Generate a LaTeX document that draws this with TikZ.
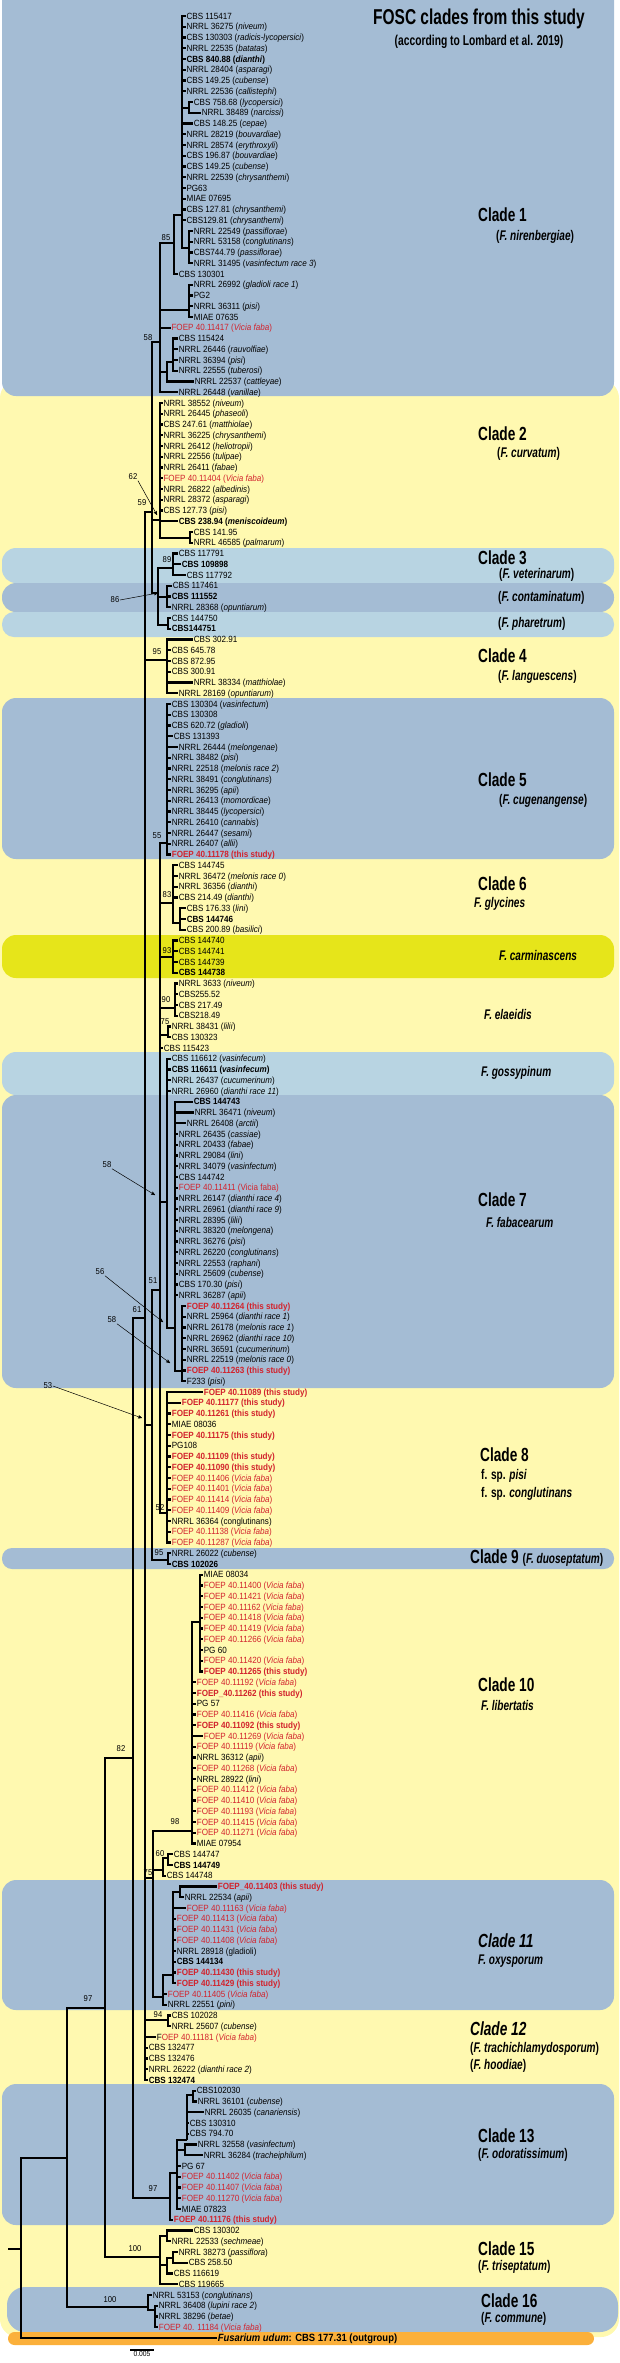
\documentclass[tikz,border=0pt]{standalone}
\usepackage{fontspec}
\setmainfont{Liberation Sans}[FakeStretch=0.9]
\newfontfamily\cladefont{Liberation Sans}[FakeStretch=0.72]
\usetikzlibrary{arrows,positioning}

\definecolor{cladeblue}{RGB}{164,188,212}
\definecolor{cladepale}{RGB}{184,212,226}
\definecolor{cladeyellow}{RGB}{255,249,176}
\definecolor{cladelime}{RGB}{230,229,26}
\definecolor{outorange}{RGB}{251,176,59}
\definecolor{foepred}{RGB}{210,35,45}

\newcommand{\taxfont}{\fontsize{9}{10}\selectfont}
\newcommand{\vf}{(\textit{Vicia faba})}
\newcommand{\ths}{(this study)}
% one taxon per row: \tx[style]{row}{x}{label}
\newcommand{\tx}[4][taxon]{\node[#1] (t#2) at (#3,{16+(#2-1)*10.75}) {#4};}
\newcommand{\fan}[3]{\foreach \i in {#2,...,#3} \draw[branch] (#1) |- (t\i);}
\newcommand{\link}[2]{\draw[branch] (#1) |- (#2);}

\begin{document}
\begin{tikzpicture}[x=1pt,y=-1pt,>=stealth']
  \tikzstyle{taxon}=[anchor=west,inner sep=0.6pt,font=\taxfont,text height=6.4pt,text depth=0pt]
  \tikzstyle{taxbf}=[taxon,font=\taxfont\bfseries]
  \tikzstyle{foep}=[taxon,text=foepred]
  \tikzstyle{foepbf}=[taxbf,text=foepred]
  \tikzstyle{branch}=[line width=2.4pt]
  \tikzstyle{boot}=[inner sep=0.5pt,font=\fontsize{8.5}{9}\selectfont]
  \tikzstyle{lead}=[->,line width=0.5pt]
  \tikzstyle{band}=[rounded corners=14pt]
  \tikzstyle{cladename}=[anchor=west,inner sep=0pt,font=\cladefont\fontsize{19}{21}\selectfont\bfseries]
  \tikzstyle{cladesp}=[anchor=west,inner sep=0pt,font=\cladefont\fontsize{14}{16}\selectfont\bfseries]

  \useasboundingbox (0,0) rectangle (619,2363);

  % clade bands
  \fill[cladeyellow,rounded corners=18pt] (0,380) rectangle (619,2337);
  \fill[cladeblue,band] (2,-20) rectangle (614,396);
  \fill[cladepale,band] (2,548) rectangle (614,583);
  \fill[cladeblue,band] (2,583) rectangle (614,612);
  \fill[cladepale,rounded corners=12pt] (2,612) rectangle (614,637);
  \fill[cladeblue,band] (2,698) rectangle (614,859);
  \fill[cladelime,band] (2,935) rectangle (614,978);
  \fill[cladepale,band] (2,1052) rectangle (614,1095);
  \fill[cladeblue,band] (2,1095) rectangle (614,1388);
  \fill[cladeblue,rounded corners=10pt] (2,1548) rectangle (614,1569);
  \fill[cladeblue,band] (2,1880) rectangle (614,2010);
  \fill[cladeblue,band] (2,2084) rectangle (614,2225);
  \fill[cladeblue,rounded corners=18pt] (7,2287) rectangle (618,2332);
  \fill[outorange,rounded corners=6.5pt] (8,2332) rectangle (594,2345);

  % titles
  \node[font=\cladefont\fontsize{21.5}{23}\selectfont\bfseries,inner sep=0pt] (title) at (479,19) {FOSC clades from this study};
  \node[font=\cladefont\fontsize{14.3}{16}\selectfont\bfseries,inner sep=0pt,below=6pt of title] (subtitle) {(according to Lombard et al. 2019)};

  \node[cladename] (c1) at (478,215) {Clade 1};
  \node[cladesp] (c1s) at (496,237) {(\textit{F. nirenbergiae})};
  \node[cladename] (c2) at (478,434) {Clade 2};
  \node[cladesp] (c2s) at (497,454) {(\textit{F. curvatum})};
  \node[cladename] (c3) at (478,558) {Clade 3};
  \node[cladesp] (c3s) at (499,575) {(\textit{F. veterinarum})};
  \node[cladesp] (cco) at (498,598) {(\textit{F. contaminatum})};
  \node[cladesp] (cph) at (498,624) {(\textit{F. pharetrum})};
  \node[cladename] (c4) at (478,656) {Clade 4};
  \node[cladesp] (c4s) at (498,677) {(\textit{F. languescens})};
  \node[cladename] (c5) at (478,780) {Clade 5};
  \node[cladesp] (c5s) at (499,801) {(\textit{F. cugenangense})};
  \node[cladename] (c6) at (478,884) {Clade 6};
  \node[cladesp] (c6s) at (474,904) {\textit{F. glycines}};
  \node[cladesp] (cca) at (499,955) {\textit{F. carminascens}};
  \node[cladesp] (cel) at (484,1014) {\textit{F. elaeidis}};
  \node[cladesp] (cgo) at (481,1073) {\textit{F. gossypinum}};
  \node[cladename] (c7) at (478,1200) {Clade 7};
  \node[cladesp] (c7s) at (486,1222) {\textit{F. fabacearum}};
  \node[cladename] (c8) at (480,1455) {Clade 8};
  \node[cladesp] (c8s) at (481,1476) {f. sp. \textit{pisi}};
  \node[cladesp] (c8t) at (481,1494) {f. sp. \textit{conglutinans}};
  \node[cladename] (c9) at (470,1558) {Clade 9 {\fontsize{14}{16}\selectfont(\textit{F. duoseptatum})}};
  \node[cladename] (c10) at (478,1685) {Clade 10};
  \node[cladesp] (c10s) at (481,1705) {\textit{F. libertatis}};
  \node[cladename] (c11) at (478,1941) {\textit{Clade 11}};
  \node[cladesp] (c11s) at (478,1961) {\textit{F. oxysporum}};
  \node[cladename] (c12) at (470,2029) {\textit{Clade 12}};
  \node[cladesp] (c12s) at (470,2049) {(\textit{F. trachichlamydosporum})};
  \node[cladesp] (c12t) at (470,2066) {(\textit{F. hoodiae})};
  \node[cladename] (c13) at (478,2136) {Clade 13};
  \node[cladesp] (c13s) at (478,2155) {(\textit{F. odoratissimum})};
  \node[cladename] (c15) at (478,2249) {Clade 15};
  \node[cladesp] (c15s) at (478,2267) {(\textit{F. triseptatum})};
  \node[cladename] (c16) at (481,2301) {Clade 16};
  \node[cladesp] (c16s) at (481,2319) {(\textit{F. commune})};

  % taxa, clade 1
  \tx{1}{185.7}{CBS 115417}
  \tx{2}{185.7}{NRRL 36275 (\textit{niveum})}
  \tx{3}{185.7}{CBS 130303 (\textit{radicis-lycopersici})}
  \tx{4}{185.7}{NRRL 22535 (\textit{batatas})}
  \tx[taxbf]{5}{185.7}{CBS 840.88 (\textit{dianthi})}
  \tx{6}{185.7}{NRRL 28404 (\textit{asparagi})}
  \tx{7}{185.7}{CBS 149.25 (\textit{cubense})}
  \tx{8}{185.7}{NRRL 22536 (\textit{callistephi})}
  \tx{9}{193}{CBS 758.68 (\textit{lycopersici})}
  \tx{10}{201}{NRRL 38489 (\textit{narcissi})}
  \tx{11}{193}{CBS 148.25 (\textit{cepae})}
  \tx{12}{185.7}{NRRL 28219 (\textit{bouvardiae})}
  \tx{13}{185.7}{NRRL 28574 (\textit{erythroxyli})}
  \tx{14}{185.7}{CBS 196.87 (\textit{bouvardiae})}
  \tx{15}{185.7}{CBS 149.25 (\textit{cubense})}
  \tx{16}{185.7}{NRRL 22539 (\textit{chrysanthemi})}
  \tx{17}{185.7}{PG63}
  \tx{18}{185.7}{MIAE 07695}
  \tx{19}{185.7}{CBS 127.81 (\textit{chrysanthemi})}
  \tx{20}{185.7}{CBS129.81 (\textit{chrysanthemi})}
  \tx{21}{193}{NRRL 22549 (\textit{passiflorae})}
  \tx{22}{193}{NRRL 53158 (\textit{conglutinans})}
  \tx{23}{193}{CBS744.79 (\textit{passiflorae})}
  \tx{24}{193}{NRRL 31495 (\textit{vasinfectum race 3})}
  \tx{25}{178}{CBS 130301}
  \tx{26}{193}{NRRL 26992 (\textit{gladioli race 1})}
  \tx{27}{193}{PG2}
  \tx{28}{193}{NRRL 36311 (\textit{pisi})}
  \tx{29}{193}{MIAE 07635}
  \tx[foep]{30}{170.7}{FOEP 40.11417 \vf}
  \tx{31}{178}{CBS 115424}
  \tx{32}{178}{NRRL 26446 (\textit{rauvolfiae})}
  \tx{33}{178}{NRRL 36394 (\textit{pisi})}
  \tx{34}{178}{NRRL 22555 (\textit{tuberosi})}
  \tx{35}{194}{NRRL 22537 (\textit{cattleyae})}
  \tx{36}{178}{NRRL 26448 (\textit{vanillae})}
  % clade 2
  \tx{37}{162.7}{NRRL 38552 (\textit{niveum})}
  \tx{38}{162.7}{NRRL 26445 (\textit{phaseoli})}
  \tx{39}{162.7}{CBS 247.61 (\textit{matthiolae})}
  \tx{40}{162.7}{NRRL 36225 (\textit{chrysanthemi})}
  \tx{41}{162.7}{NRRL 26412 (\textit{heliotropii})}
  \tx{42}{162.7}{NRRL 22556 (\textit{tulipae})}
  \tx{43}{162.7}{NRRL 26411 (\textit{fabae})}
  \tx[foep]{44}{162.7}{FOEP 40.11404 \vf}
  \tx{45}{162.7}{NRRL 26822 (\textit{albedinis})}
  \tx{46}{162.7}{NRRL 28372 (\textit{asparagi})}
  \tx{47}{162.7}{CBS 127.73 (\textit{pisi})}
  \tx[taxbf]{48}{178}{CBS 238.94 (\textit{meniscoideum})}
  \tx{49}{193}{CBS 141.95}
  \tx{50}{193}{NRRL 46585 (\textit{palmarum})}
  % clade 3, contaminatum, pharetrum
  \tx{51}{178}{CBS 117791}
  \tx[taxbf]{52}{181}{CBS 109898}
  \tx{53}{186}{CBS 117792}
  \tx{54}{172}{CBS 117461}
  \tx[taxbf]{55}{171}{CBS 111552}
  \tx{56}{171}{NRRL 28368 (\textit{opuntiarum})}
  \tx{57}{171}{CBS 144750}
  \tx[taxbf]{58}{171}{CBS144751}
  % clade 4
  \tx{59}{193}{CBS 302.91}
  \tx{60}{171}{CBS 645.78}
  \tx{61}{171}{CBS 872.95}
  \tx{62}{171}{CBS 300.91}
  \tx{63}{193}{NRRL 38334 (\textit{matthiolae})}
  \tx{64}{178}{NRRL 28169 (\textit{opuntiarum})}
  % clade 5
  \tx{65}{171}{CBS 130304 (\textit{vasinfectum})}
  \tx{66}{171}{CBS 130308}
  \tx{67}{171}{CBS 620.72 (\textit{gladioli})}
  \tx{68}{173}{CBS 131393}
  \tx{69}{178}{NRRL 26444 (\textit{melongenae})}
  \tx{70}{171}{NRRL 38482 (\textit{pisi})}
  \tx{71}{171}{NRRL 22518 (\textit{melonis race 2})}
  \tx{72}{171}{NRRL 38491 (\textit{conglutinans})}
  \tx{73}{171}{NRRL 36295 (\textit{apii})}
  \tx{74}{171}{NRRL 26413 (\textit{momordicae})}
  \tx{75}{171}{NRRL 38445 (\textit{lycopersici})}
  \tx{76}{171}{NRRL 26410 (\textit{cannabis})}
  \tx{77}{171}{NRRL 26447 (\textit{sesami})}
  \tx{78}{171}{NRRL 26407 (\textit{allii})}
  \tx[foepbf]{79}{171}{FOEP 40.11178 \ths}
  % clade 6, carminascens, elaeidis
  \tx{80}{178}{CBS 144745}
  \tx{81}{178}{NRRL 36472 (\textit{melonis race 0})}
  \tx{82}{178}{NRRL 36356 (\textit{dianthi})}
  \tx{83}{178}{CBS 214.49 (\textit{dianthi})}
  \tx{84}{186}{CBS 176.33 (\textit{lini})}
  \tx[taxbf]{85}{186}{CBS 144746}
  \tx{86}{186}{CBS 200.89 (\textit{basilici})}
  \tx{87}{178}{CBS 144740}
  \tx{88}{178}{CBS 144741}
  \tx{89}{178}{CBS 144739}
  \tx[taxbf]{90}{178}{CBS 144738}
  \tx{91}{178}{NRRL 3633 (\textit{niveum})}
  \tx{92}{178}{CBS255.52}
  \tx{93}{178}{CBS 217.49}
  \tx{94}{178}{CBS218.49}
  \tx{95}{171}{NRRL 38431 (\textit{lilii})}
  \tx{96}{171}{CBS 130323}
  \tx{97}{163}{CBS 115423}
  % gossypinum, clade 7
  \tx{98}{171}{CBS 116612 (\textit{vasinfecum})}
  \tx[taxbf]{99}{171}{CBS 116611 (\textit{vasinfecum})}
  \tx{100}{171}{NRRL 26437 (\textit{cucumerinum})}
  \tx{101}{171}{NRRL 26960 (\textit{dianthi race 11})}
  \tx[taxbf]{102}{193}{CBS 144743}
  \tx{103}{194}{NRRL 36471 (\textit{niveum})}
  \tx{104}{186}{NRRL 26408 (\textit{arctii})}
  \tx{105}{178}{NRRL 26435 (\textit{cassiae})}
  \tx{106}{178}{NRRL 20433 (\textit{fabae})}
  \tx{107}{178}{NRRL 29084 (\textit{lini})}
  \tx{108}{178}{NRRL 34079 (\textit{vasinfectum})}
  \tx{109}{178}{CBS 144742}
  \tx[foep]{110}{178}{FOEP 40.11411 (Vicia faba)}
  \tx{111}{178}{NRRL 26147 (\textit{dianthi race 4})}
  \tx{112}{178}{NRRL 26961 (\textit{dianthi race 9})}
  \tx{113}{178}{NRRL 28395 (\textit{lilii})}
  \tx{114}{178}{NRRL 38320 (\textit{melongena})}
  \tx{115}{178}{NRRL 36276 (\textit{pisi})}
  \tx{116}{178}{NRRL 26220 (\textit{conglutinans})}
  \tx{117}{178}{NRRL 22553 (\textit{raphani})}
  \tx{118}{178}{NRRL 25609 (\textit{cubense})}
  \tx{119}{178}{CBS 170.30 (\textit{pisi})}
  \tx{120}{178}{NRRL 36287 (\textit{apii})}
  \tx[foepbf]{121}{186}{FOEP 40.11264 \ths}
  \tx{122}{186}{NRRL 25964 (\textit{dianthi race 1})}
  \tx{123}{186}{NRRL 26178 (\textit{melonis race 1})}
  \tx{124}{186}{NRRL 26962 (\textit{dianthi race 10})}
  \tx{125}{186}{NRRL 36591 (\textit{cucumerinum})}
  \tx{126}{186}{NRRL 22519 (\textit{melonis race 0})}
  \tx[foepbf]{127}{186}{FOEP 40.11263 \ths}
  \tx{128}{186}{F233 (\textit{pisi})}
  % clade 8, clade 9
  \tx[foepbf]{129}{203}{FOEP 40.11089 \ths}
  \tx[foepbf]{130}{181}{FOEP 40.11177 \ths}
  \tx[foepbf]{131}{171}{FOEP 40.11261 \ths}
  \tx{132}{171}{MIAE 08036}
  \tx[foepbf]{133}{171}{FOEP 40.11175 \ths}
  \tx{134}{171}{PG108}
  \tx[foepbf]{135}{171}{FOEP 40.11109 \ths}
  \tx[foepbf]{136}{171}{FOEP 40.11090 \ths}
  \tx[foep]{137}{171}{FOEP 40.11406 \vf}
  \tx[foep]{138}{171}{FOEP 40.11401 \vf}
  \tx[foep]{139}{171}{FOEP 40.11414 \vf}
  \tx[foep]{140}{171}{FOEP 40.11409 \vf}
  \tx{141}{171}{NRRL 36364 (conglutinans)}
  \tx[foep]{142}{171}{FOEP 40.11138 \vf}
  \tx[foep]{143}{171}{FOEP 40.11287 \vf}
  \tx{144}{171}{NRRL 26022 (\textit{cubense})}
  \tx[taxbf]{145}{171}{CBS 102026}
  % clade 10
  \tx{146}{203}{MIAE 08034}
  \tx[foep]{147}{203}{FOEP 40.11400 \vf}
  \tx[foep]{148}{203}{FOEP 40.11421 \vf}
  \tx[foep]{149}{203}{FOEP 40.11162 \vf}
  \tx[foep]{150}{203}{FOEP 40.11418 \vf}
  \tx[foep]{151}{203}{FOEP 40.11419 \vf}
  \tx[foep]{152}{203}{FOEP 40.11266 \vf}
  \tx{153}{203}{PG 60}
  \tx[foep]{154}{203}{FOEP 40.11420 \vf}
  \tx[foepbf]{155}{203}{FOEP 40.11265 \ths}
  \tx[foep]{156}{196}{FOEP 40.11192 \vf}
  \tx[foepbf]{157}{196}{FOEP\_40.11262 \ths}
  \tx{158}{196}{PG 57}
  \tx[foep]{159}{196}{FOEP 40.11416 \vf}
  \tx[foepbf]{160}{196}{FOEP 40.11092 \ths}
  \tx[foep]{161}{203}{FOEP 40.11269 \vf}
  \tx[foep]{162}{196}{FOEP 40.11119 \vf}
  \tx{163}{196}{NRRL 36312 (\textit{apii})}
  \tx[foep]{164}{196}{FOEP 40.11268 \vf}
  \tx{165}{196}{NRRL 28922 (\textit{lini})}
  \tx[foep]{166}{196}{FOEP 40.11412 \vf}
  \tx[foep]{167}{196}{FOEP 40.11410 \vf}
  \tx[foep]{168}{196}{FOEP 40.11193 \vf}
  \tx[foep]{169}{196}{FOEP 40.11415 \vf}
  \tx[foep]{170}{196}{FOEP 40.11271 \vf}
  \tx{171}{196}{MIAE 07954}
  \tx{172}{173}{CBS 144747}
  \tx[taxbf]{173}{173}{CBS 144749}
  \tx{174}{166}{CBS 144748}
  % clade 11
  \tx[foepbf]{175}{217}{FOEP\_40.11403 \ths}
  \tx{176}{184}{NRRL 22534 (\textit{apii})}
  \tx[foep]{177}{186}{FOEP 40.11163 \vf}
  \tx[foep]{178}{176}{FOEP 40.11413 \vf}
  \tx[foep]{179}{176}{FOEP 40.11431 \vf}
  \tx[foep]{180}{176}{FOEP 40.11408 \vf}
  \tx{181}{176}{NRRL 28918 (gladioli)}
  \tx[taxbf]{182}{176}{CBS 144134}
  \tx[foepbf]{183}{176}{FOEP 40.11430 \ths}
  \tx[foepbf]{184}{176}{FOEP 40.11429 \ths}
  \tx[foep]{185}{167}{FOEP 40.11405 \vf}
  \tx{186}{167}{NRRL 22551 (\textit{pini})}
  % clade 12
  \tx{187}{171}{CBS 102028}
  \tx{188}{171}{NRRL 25607 (\textit{cubense})}
  \tx[foep]{189}{156}{\textcolor{black}{F}OEP 40.11181 \vf}
  \tx{190}{148}{CBS 132477}
  \tx{191}{148}{CBS 132476}
  \tx{192}{148}{NRRL 26222 (\textit{dianthi race 2})}
  \tx[taxbf]{193}{148}{CBS 132474}
  % clade 13
  \tx{194}{196}{CBS102030}
  \tx{195}{197}{NRRL 36101 (\textit{cubense})}
  \tx{196}{204}{NRRL 26035 (\textit{canariensis})}
  \tx{197}{189}{CBS 130310}
  \tx{198}{189}{CBS 794.70}
  \tx{199}{197}{NRRL 32558 (\textit{vasinfectum})}
  \tx{200}{203}{NRRL 36284 (\textit{tracheiphilum})}
  \tx{201}{181}{PG 67}
  \tx[foep]{202}{181}{FOEP 40.11402 \vf}
  \tx[foep]{203}{181}{FOEP 40.11407 \vf}
  \tx[foep]{204}{181}{FOEP 40.11270 \vf}
  \tx{205}{181}{MIAE 07823}
  \tx[foepbf]{206}{173}{FOEP 40.11176 \ths}
  % clade 15, clade 16, outgroup
  \tx{207}{193}{CBS 130302}
  \tx{208}{171}{NRRL 22533 (\textit{sechmeae})}
  \tx{209}{178}{NRRL 38273 (\textit{passiflora})}
  \tx{210}{188}{CBS 258.50}
  \tx{211}{173}{CBS 116619}
  \tx{212}{178}{CBS 119665}
  \tx{213}{152}{NRRL 53153 (\textit{conglutinans})}
  \tx{214}{158}{NRRL 36408 (\textit{lupini race 2})}
  \tx{215}{158}{NRRL 38296 (\textit{betae})}
  \tx[foep]{216}{158}{FOEP 40. 11184 \vf}
  \tx[taxbf,font=\fontsize{10.5}{12}\selectfont\bfseries]{217}{217}{\textit{Fusarium udum}: CBS 177.31 (outgroup)}

  % internal nodes
  \coordinate (nA1) at (189,108);
  \coordinate (nP1) at (182,215);
  \coordinate (nP1b) at (189,248);
  \coordinate (nB1) at (174,243);
  \coordinate (nG1) at (189,310);
  \coordinate (nR1) at (173,362);
  \coordinate (nR) at (167,372);
  \coordinate (n58) at (160,342);
  \coordinate (nS2) at (190,538);
  \coordinate (n62) at (160,520);
  \coordinate (n89) at (173,568);
  \coordinate (nCo) at (167,597);
  \coordinate (nPh) at (168,625);
  \coordinate (n86) at (158,593);
  \coordinate (n59) at (152,512);
  \coordinate (n95) at (167,660);
  \coordinate (n55) at (167,843);
  \coordinate (nS6) at (180,923);
  \coordinate (n83) at (173,903);
  \coordinate (n93) at (173,957);
  \coordinate (n90) at (175,1008);
  \coordinate (n75) at (168,1035);
  \coordinate (nS7b) at (182,1371);
  \coordinate (nP7) at (175,1328);
  \coordinate (nG7) at (167,1202);
  \coordinate (n52) at (167,1513);
  \coordinate (n51) at (160,1290);
  \coordinate (n95b) at (168,1560);
  \coordinate (n53) at (152,1425);
  \coordinate (nS10a) at (200,1622);
  \coordinate (n98) at (192,1831);
  \coordinate (n60a) at (168,1858);
  \coordinate (n60) at (163,1870);
  \coordinate (nS11a) at (180,1892);
  \coordinate (nS11) at (173,1975);
  \coordinate (n11) at (163,1997);
  \coordinate (n153) at (153,1878);
  \coordinate (n94) at (168,2020);
  \coordinate (n61) at (145,1318);
  \coordinate (nA13a) at (193,2095);
  \coordinate (nA13) at (187,2140);
  \coordinate (nB13) at (185,2150);
  \coordinate (nC13) at (177,2173);
  \coordinate (n97) at (170,2198);
  \coordinate (n82) at (133,1758);
  \coordinate (nC15a) at (167,2236);
  \coordinate (nC15c) at (173,2258);
  \coordinate (nC15b) at (167,2265);
  \coordinate (n100) at (160,2257);
  \coordinate (n16s) at (155,2310);
  \coordinate (n16) at (148,2307);
  \coordinate (n103) at (105,2008);
  \coordinate (n68) at (67,2158);
  \coordinate (nroot) at (21,2249);
  \coordinate (nstub) at (8,2249);

  % support values
  \node[boot] (s85) at (166,238) {85};
  \node[boot] (s58a) at (148,338) {58};
  \node[boot] (s62) at (133,477) {62};
  \node[boot] (s59) at (142,503) {59};
  \node[boot] (s89) at (167,560) {89};
  \node[boot] (s86) at (115,600) {86};
  \node[boot] (s95) at (157,652) {95};
  \node[boot] (s55) at (157,836) {55};
  \node[boot] (s83) at (167,895) {83};
  \node[boot] (s93) at (167,951) {93};
  \node[boot] (s90) at (166,1000) {90};
  \node[boot] (s75) at (165,1022) {75};
  \node[boot] (s58b) at (107,1165) {58};
  \node[boot] (s56) at (100,1272) {56};
  \node[boot] (s51) at (153,1281) {51};
  \node[boot] (s61) at (137,1310) {61};
  \node[boot] (s58c) at (112,1320) {58};
  \node[boot] (s53) at (48,1386) {53};
  \node[boot] (s52) at (160,1508) {52};
  \node[boot] (s95b) at (159,1553) {95};
  \node[boot] (s82) at (121,1749) {82};
  \node[boot] (s98) at (175,1822) {98};
  \node[boot] (s60) at (160,1854) {60};
  \node[boot] (s75b) at (148,1873) {75};
  \node[boot] (s97a) at (88,1999) {97};
  \node[boot] (s94) at (158,2015) {94};
  \node[boot] (s97) at (153,2189) {97};
  \node[boot] (s100a) at (135,2249) {100};
  \node[boot] (s100b) at (110,2300) {100};

  % leader arrows
  \coordinate (a62) at (157,515);
  \coordinate (a86) at (158,593);
  \coordinate (a58b) at (155,1195);
  \coordinate (a56) at (163,1322);
  \coordinate (a58c) at (170,1363);
  \coordinate (a53) at (142,1418);
  \draw[lead] (s62.south east) -- (a62);
  \draw[lead] (s86.east) -- (a86);
  \draw[lead] (s58b.south east) -- (a58b);
  \draw[lead] (s56.south east) -- (a56);
  \draw[lead] (s58c.south east) -- (a58c);
  \draw[lead] (s53.east) -- (a53);

  % branches
  \fan{nP1}{1}{8}
  \link{nP1}{nA1}
  \fan{nA1}{9}{10}
  \fan{nP1}{11}{20}
  \link{nP1}{nP1b}
  \fan{nP1b}{21}{24}
  \link{nB1}{nP1}
  \link{nB1}{t25}
  \fan{nG1}{26}{29}
  \fan{nR1}{31}{34}
  \link{nR}{nR1}
  \link{nR}{t35}
  \link{n58}{nB1}
  \link{n58}{nG1}
  \link{n58}{t30}
  \link{n58}{nR}
  \link{n58}{t36}
  \fan{n62}{37}{48}
  \link{n62}{nS2}
  \fan{nS2}{49}{50}
  \fan{n89}{51}{53}
  \fan{nCo}{54}{56}
  \fan{nPh}{57}{58}
  \link{n86}{n89}
  \link{n86}{nCo}
  \link{n86}{nPh}
  \link{n59}{n58}
  \link{n59}{n62}
  \link{n59}{n86}
  \fan{n95}{59}{64}
  \fan{n55}{65}{79}
  \fan{n83}{80}{83}
  \link{n83}{nS6}
  \fan{nS6}{84}{86}
  \fan{n93}{87}{90}
  \fan{n90}{91}{94}
  \fan{n75}{95}{96}
  \fan{nG7}{98}{101}
  \link{nG7}{nP7}
  \fan{nP7}{102}{120}
  \link{nP7}{nS7b}
  \fan{nS7b}{121}{128}
  \fan{n52}{129}{143}
  \foreach \c in {n55,n83,n93,n90,n75,t97,nG7,n52} \link{n51}{\c}
  \fan{n95b}{144}{145}
  \link{n53}{n51}
  \link{n53}{n95b}
  \fan{nS10a}{146}{155}
  \link{n98}{nS10a}
  \fan{n98}{156}{171}
  \fan{n60a}{172}{173}
  \link{n60}{n60a}
  \link{n60}{t174}
  \fan{nS11a}{175}{176}
  \link{nS11}{nS11a}
  \fan{nS11}{177}{184}
  \link{n11}{nS11}
  \fan{n11}{185}{186}
  \foreach \c in {n98,n60,n11} \link{n153}{\c}
  \fan{n94}{187}{188}
  \foreach \c in {n59,n95,n53,n153,n94} \link{n61}{\c}
  \fan{n61}{189}{193}
  \fan{nA13a}{194}{195}
  \link{nA13}{nA13a}
  \fan{nA13}{196}{198}
  \fan{nB13}{199}{200}
  \link{nC13}{nA13}
  \link{nC13}{nB13}
  \fan{nC13}{201}{205}
  \link{n97}{nC13}
  \link{n97}{t206}
  \link{n82}{n61}
  \link{n82}{n97}
  \fan{nC15a}{207}{208}
  \fan{nC15c}{209}{210}
  \link{nC15b}{nC15c}
  \link{nC15b}{t211}
  \foreach \c in {nC15a,nC15b,t212} \link{n100}{\c}
  \fan{n16s}{214}{216}
  \link{n16}{t213}
  \link{n16}{n16s}
  \link{n103}{n82}
  \link{n103}{n100}
  \link{n68}{n103}
  \link{n68}{n16}
  \link{nroot}{n68}
  \link{nroot}{t217}
  \draw[branch] (nstub) -- (nroot);

  % scale bar
  \coordinate (sb0) at (130,2350);
  \coordinate (sb1) at (154,2350);
  \coordinate (sbm) at (142,2350);
  \draw[line width=1.6pt] (sb0) -- (sb1);
  \node[font=\fontsize{7.5}{8}\selectfont,inner sep=0.5pt,below=1pt of sbm] (sbl) {0.005};
\end{tikzpicture}
\end{document}
